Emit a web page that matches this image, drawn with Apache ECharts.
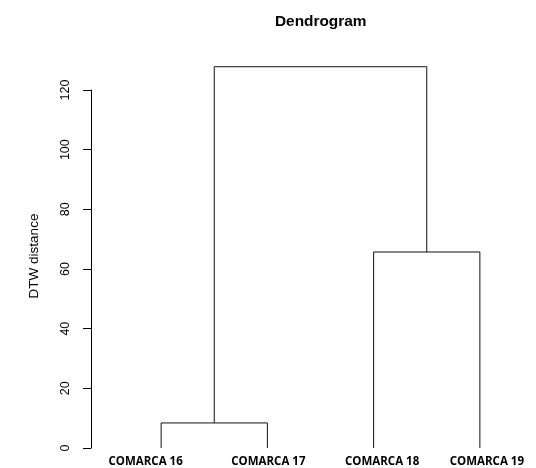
<!DOCTYPE html>
<html><head><meta charset="utf-8">
<script src="https://cdn.jsdelivr.net/npm/echarts@6/dist/echarts.min.js"></script>
<style>html,body{margin:0;padding:0;background:#fff}#c{width:536px;height:468px}</style>
</head><body><div id="c"></div>
<script>
const leaves = ['COMARCA 16', 'COMARCA 17', 'COMARCA 18', 'COMARCA 19'];
const yTicks = [0, 20, 40, 60, 80, 100, 120];
// merges: left child x, right child x, left child height, right child height, merge height
const mergeLeftX = [1, 3, 1.5];
const mergeRightX = [2, 4, 3.5];
const mergeLeftH = [0, 0, 8.4];
const mergeRightH = [0, 0, 65.7];
const mergeHeight = [8.4, 65.7, 127.8];

const mergeData = mergeHeight.map((h, i) => [mergeLeftX[i], mergeRightX[i], mergeLeftH[i], mergeRightH[i], h]);

const leafFont = { fontFamily: 'Open Sans', fontWeight: 'bold', fontSize: 11.5, color: '#000' };
const leafRich = {
  l0: Object.assign({ padding: [0, 31, 0, 0] }, leafFont),
  l1: Object.assign({ padding: [0, 0, 0, 2] }, leafFont),
  l2: Object.assign({ padding: [0, 0, 0, 17] }, leafFont),
  l3: Object.assign({ padding: [0, 0, 0, 14] }, leafFont)
};

const chart = echarts.init(document.getElementById('c'));
chart.setOption({
  animation: false,
  title: {
    text: 'Dendrogram', left: 270, top: 9,
    textStyle: { fontFamily: 'Liberation Sans', fontWeight: 'bold', fontSize: 15.4, color: '#000' }
  },
  grid: { left: 108, right: 3, top: 90, bottom: 20 },
  xAxis: [
    { type: 'value', min: 0.5, max: 4.5, show: false },
    { type: 'category', data: leaves, position: 'bottom', boundaryGap: true,
      axisLine: { show: false }, axisTick: { show: false },
      axisLabel: { margin: 8, interval: 0, formatter: (v, i) => '{l' + i + '|' + v + '}', rich: leafRich } }
  ],
  yAxis: {
    type: 'value', min: 0, max: 120, interval: 20, offset: 17,
    name: 'DTW distance', nameLocation: 'middle', nameRotate: 90, nameGap: 50,
    nameTextStyle: { fontFamily: 'Liberation Sans', fontSize: 13.5, color: '#000', padding: [0, 0, 0, 26] },
    axisLine: { show: true, lineStyle: { color: '#000', width: 1 } },
    axisTick: { show: true, length: 8, lineStyle: { color: '#000' } },
    axisLabel: { rotate: 90, margin: 19, color: '#000', fontFamily: 'Liberation Sans', fontSize: 12.5,
      formatter: v => yTicks.includes(v) ? String(v) : '' },
    splitLine: { show: false }
  },
  series: [{
    type: 'custom', xAxisIndex: 0, yAxisIndex: 0, clip: false,
    data: mergeData,
    renderItem: (params, api) => {
      const xl = api.value(0), xr = api.value(1), hl = api.value(2), hr = api.value(3), h = api.value(4);
      const p1 = api.coord([xl, hl]), p2 = api.coord([xl, h]), p3 = api.coord([xr, h]), p4 = api.coord([xr, hr]);
      return { type: 'polyline', shape: { points: [p1, p2, p3, p4] },
        style: { stroke: '#111', lineWidth: 1, fill: null } };
    }
  }]
});
</script></body></html>
